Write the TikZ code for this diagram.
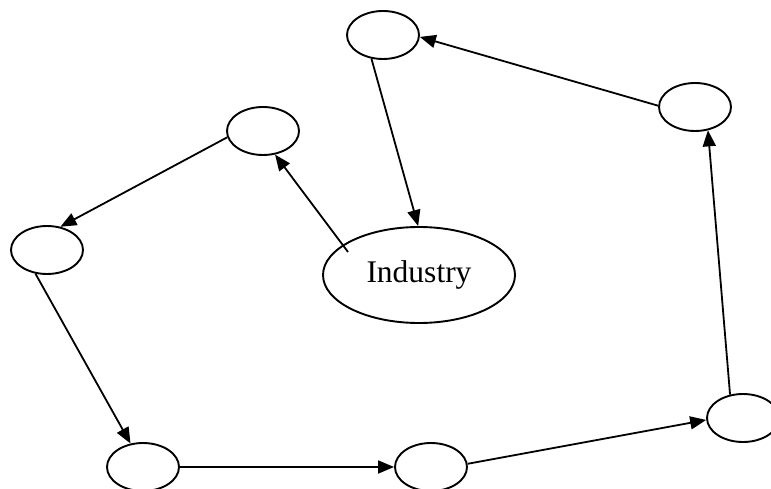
\documentclass[tikz,border=0pt]{standalone}
\usepackage{fontspec}
\setmainfont{Liberation Serif}
\usetikzlibrary{shapes.geometric,arrows.meta,calc}
\begin{document}
\begin{tikzpicture}[x=1pt,y=-1pt,
  oval/.style={draw=black,line width=1.9pt,ellipse,minimum width=72pt,minimum height=48pt,inner sep=0pt},
  big/.style={draw=black,line width=1.9pt,ellipse,minimum width=192pt,minimum height=96pt,inner sep=0pt,font=\fontsize{31.5}{36}\selectfont},
  arr/.style={line width=1.8pt,-{Triangle[length=16pt,width=13pt]}}]
\useasboundingbox (0,0) rectangle (771,489);
\node[oval] (top) at (383,35) {};
\node[oval] (tr) at (695,107) {};
\node[oval] (lt) at (263,131) {};
\node[oval] (l) at (47,250) {};
\node[big] (ind) at (419,275) {Industry};
\node[oval] (bl) at (143,467) {};
\node[oval] (bm) at (431,467) {};
\node[oval] (br) at (743,418) {};
\coordinate (indin) at ($(ind.center)+(-71,-23)$);
\draw[arr] (top.244) -- (ind.91);
\draw[arr] (indin) -- (lt.297);
\draw[arr] (lt.190) -- (l.60);
\draw[arr] (l.244) -- (bl.118);
\draw[arr] (bl.east) -- (bm.west);
\draw[arr] (bm.5) -- (br.183);
\draw[arr] (br.119) -- (tr.299);
\draw[arr] (tr.178) -- (top.357);
\end{tikzpicture}
\end{document}
